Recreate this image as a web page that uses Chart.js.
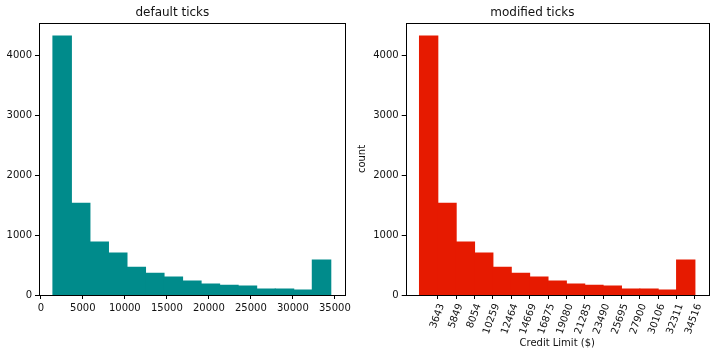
<!DOCTYPE html>
<html>
<head>
<meta charset="utf-8">
<script src="https://cdn.jsdelivr.net/npm/chart.js@4/dist/chart.umd.min.js"></script>
<style>
    body { margin: 0; background: #fff; }
    #wrap { position: relative; width: 716px; height: 356px; }
    .box { position: absolute; top: 0; height: 356px; }
</style>
</head>
<body>
<div id="wrap">
    <div class="box" style="left:0;width:358px"><canvas id="left-chart"></canvas></div>
    <div class="box" style="left:356px;width:360px"><canvas id="right-chart"></canvas></div>
</div>
<script>
// bin edges of the credit limit histogram (15 bins)
const binEdges = [1438, 3643, 5849, 8054, 10259, 12464, 14669, 16875, 19080, 21285, 23490, 25695, 27900, 30106, 32311, 34516];
// count per bin
const binCounts = [4330, 1535, 885, 700, 465, 365, 300, 235, 185, 165, 150, 100, 100, 85, 585];
const defaultTicksX = [0, 5000, 10000, 15000, 20000, 25000, 30000, 35000];
const modifiedTicksX = binEdges.slice(1);
const ticksY = [0, 1000, 2000, 3000, 4000];

const textColor = '#111';
const fontFamily = "'DejaVu Sans', sans-serif";

Chart.defaults.font.family = fontFamily;
Chart.defaults.font.size = 10;
Chart.defaults.color = textColor;
Chart.defaults.animation = false;

// histogram bars, placed at the bin centres on a linear axis
const barData = binCounts.map((c, i) => ({ x: (binEdges[i] + binEdges[i + 1]) / 2, y: c }));

var span = binEdges[binEdges.length - 1] - binEdges[0];
var xMin = binEdges[0] - span * 0.05;
var xMax = binEdges[binEdges.length - 1] + span * 0.05;
var yMax = Math.max(...binCounts) * 1.05;

// box around the plot area, like the matplotlib spines
const frame = {
    id: 'frame',
    afterDraw: function (chart) {
        const a = chart.chartArea;
        const ctx = chart.ctx;
        ctx.save();
        ctx.strokeStyle = '#000';
        ctx.lineWidth = 1;
        ctx.strokeRect(Math.round(a.left) + 0.5, Math.round(a.top) + 0.5,
            Math.round(a.right - a.left), Math.round(a.bottom - a.top));
        ctx.restore();
    }
};

function makeChart(id, opts) {
    const ctx = document.getElementById(id).getContext('2d');
    return new Chart(ctx, {
        type: 'bar',
        data: {
            datasets: [{
                data: barData,
                backgroundColor: opts.color,
                borderWidth: 0,
                inflateAmount: 0.5,   // no white seams between the bins
                barPercentage: 1,
                categoryPercentage: 1
            }]
        },
        options: {
            responsive: true,
            maintainAspectRatio: false,
            layout: { padding: { left: 0, right: opts.padRight, top: 0, bottom: 0 } },
            plugins: {
                legend: { display: false },
                tooltip: { enabled: false },
                title: {
                    display: true,
                    text: opts.title,
                    color: textColor,
                    font: { size: 12, weight: 'normal' },
                    padding: { top: 5.5, bottom: 3.1 }
                }
            },
            scales: {
                x: {
                    type: 'linear',
                    offset: false,
                    min: xMin,
                    max: xMax,
                    border: { display: false },
                    grid: { offset: false, drawOnChartArea: false, tickLength: 4, tickColor: '#000', tickWidth: 1 },
                    afterBuildTicks: function (scale) {
                        scale.ticks = opts.xTicks.map(v => ({ value: v }));
                    },
                    afterFit: function (scale) { scale.height = 61; },
                    ticks: {
                        autoSkip: false,
                        padding: 3,
                        color: textColor,
                        minRotation: opts.rotation,
                        maxRotation: opts.rotation,
                        labelOffset: opts.labelOffset,
                        callback: function (value) { return String(value); }
                    },
                    title: {
                        display: !!opts.xTitle,
                        text: opts.xTitle,
                        color: textColor,
                        padding: { top: 4, bottom: 6.7 }
                    }
                },
                y: {
                    min: 0,
                    max: yMax,
                    border: { display: false },
                    grid: { drawOnChartArea: false, tickLength: 4, tickColor: '#000', tickWidth: 1 },
                    afterBuildTicks: function (scale) {
                        scale.ticks = ticksY.map(v => ({ value: v }));
                    },
                    afterFit: function (scale) { scale.width = opts.yWidth; },
                    ticks: {
                        padding: 3,
                        color: textColor,
                        callback: function (value) { return String(value); }
                    },
                    title: {
                        display: !!opts.yTitle,
                        text: opts.yTitle,
                        color: textColor,
                        font: { lineHeight: 1 },
                        padding: { top: 1, bottom: 0 }
                    }
                }
            }
        },
        plugins: [frame]
    });
}

makeChart('left-chart', {
    title: 'default ticks',
    color: '#008b8b',
    xTicks: defaultTicksX,
    rotation: 0,
    labelOffset: 0,
    yWidth: 39,
    padRight: 13.3
});

makeChart('right-chart', {
    title: 'modified ticks',
    color: '#e61a00',
    xTicks: modifiedTicksX,
    rotation: 70,
    labelOffset: 4,
    xTitle: 'Credit Limit ($)',
    yTitle: 'count',
    yWidth: 49.7,
    padRight: 7.3
});
</script>
</body>
</html>
